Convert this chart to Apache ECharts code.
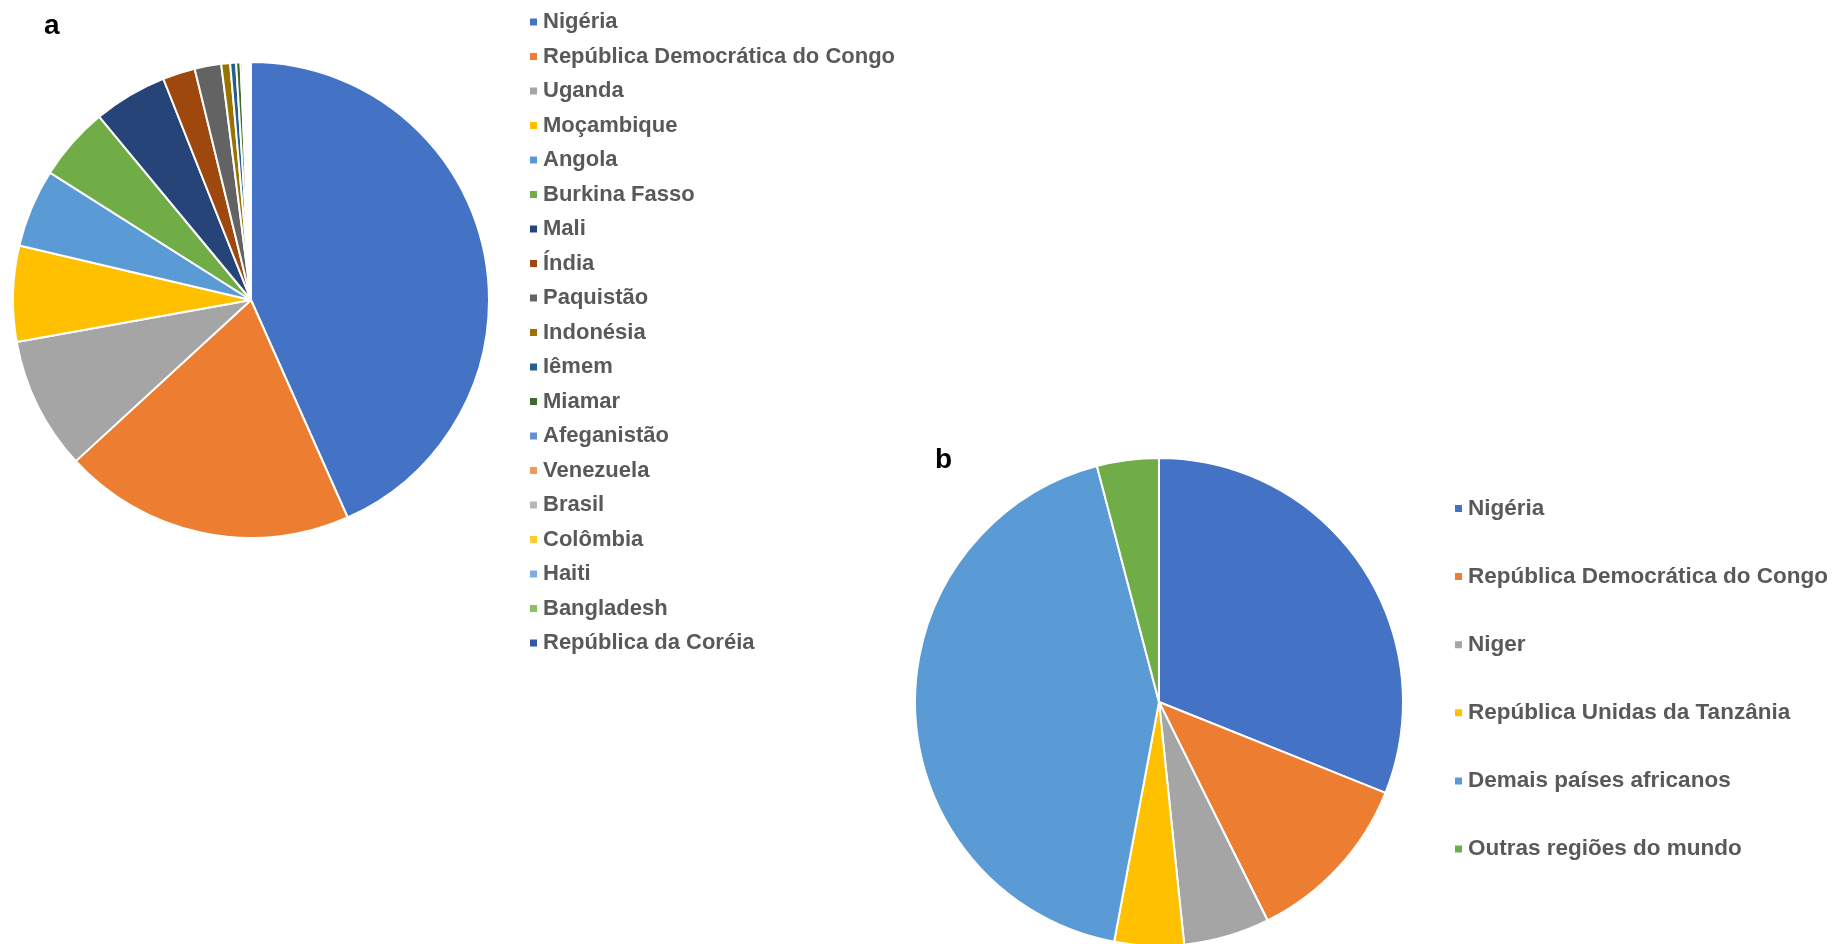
<!DOCTYPE html>
<html>
<head>
<meta charset="utf-8">
<script src="https://cdn.jsdelivr.net/npm/echarts@6/dist/echarts.min.js"></script>
<style>
html,body{margin:0;padding:0;background:#fff;}
#c{width:1834px;height:944px;}
</style>
</head>
<body>
<div id="c"></div>
<script>
// Chart a
const namesA = ['Nigéria','República Democrática do Congo','Uganda','Moçambique','Angola','Burkina Fasso','Mali','Índia','Paquistão','Indonésia','Iêmem','Miamar','Afeganistão','Venezuela','Brasil','Colômbia','Haiti','Bangladesh','República da Coréia'];
const valuesA = [43.3,19.8,9.0,6.5,5.3,5.0,5.0,2.2,1.8,0.6,0.4,0.3,0.15,0.12,0.1,0.1,0.08,0.08,0.07];
const colorsA = ['#4472C4','#ED7D31','#A5A5A5','#FFC000','#5B9BD5','#70AD47','#264478','#9E480E','#636363','#997300','#255E91','#43682B','#698ED0','#F1975A','#B7B7B7','#FFCD33','#7CAFDD','#8CC168','#335AA1'];

// Chart b
const namesB = ['Nigéria','República Democrática do Congo','Niger','República Unidas da Tanzânia','Demais países africanos','Outras regiões do mundo'];
const valuesB = [31.1,11.6,5.7,4.6,43.0,4.1];
const colorsB = ['#4472C4','#ED7D31','#A5A5A5','#FFC000','#5B9BD5','#70AD47'];

const panelLabels = ['a','b'];

const chart = echarts.init(document.getElementById('c'), null, {renderer:'canvas'});
const font = '"Liberation Sans", Arial, sans-serif';

const option = {
  animation: false,
  backgroundColor: '#ffffff',
  graphic: [
    {type:'text', left: 44, top: 12, silent:true, style:{text: panelLabels[0], font: 'bold 28px "Liberation Sans", Arial, sans-serif', fill:'#000'}},
    {type:'text', left: 935, top: 446, silent:true, style:{text: panelLabels[1], font: 'bold 28px "Liberation Sans", Arial, sans-serif', fill:'#000'}}
  ],
  legend: [
    {
      orient: 'vertical',
      left: 528,
      top: 11,
      itemWidth: 9,
      itemHeight: 9,
      itemGap: 12.5,
      icon: 'rect',
      selectedMode: false,
      data: namesA,
      textStyle: {fontFamily: font, fontWeight: 'bold', fontSize: 22, color: '#595959'},
      padding: 0
    },
    {
      orient: 'vertical',
      left: 1453,
      top: 497,
      itemWidth: 9,
      itemHeight: 9,
      itemGap: 45.1,
      icon: 'rect',
      selectedMode: false,
      data: namesB,
      textStyle: {fontFamily: font, fontWeight: 'bold', fontSize: 22.5, color: '#595959'},
      padding: 0
    }
  ],
  series: [
    {
      type: 'pie',
      center: [251, 300],
      radius: [0, 238],
      startAngle: 90,
      clockwise: true,
      silent: true,
      label: {show:false},
      labelLine: {show:false},
      itemStyle: {borderColor:'#ffffff', borderWidth:2},
      data: namesA.map((n,i)=>({name:n, value:valuesA[i], itemStyle:{color:colorsA[i]}}))
    },
    {
      type: 'pie',
      center: [1159, 702],
      radius: [0, 244],
      startAngle: 90,
      clockwise: true,
      silent: true,
      label: {show:false},
      labelLine: {show:false},
      itemStyle: {borderColor:'#ffffff', borderWidth:2},
      data: namesB.map((n,i)=>({name:n, value:valuesB[i], itemStyle:{color:colorsB[i]}}))
    }
  ]
};
chart.setOption(option);
</script>
</body>
</html>
